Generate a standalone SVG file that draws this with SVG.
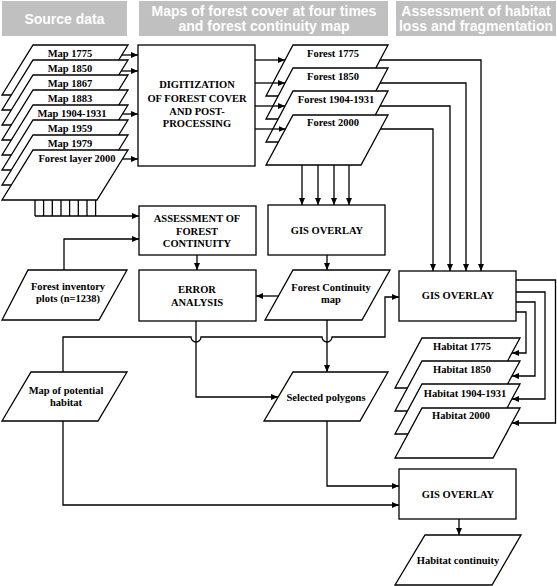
<svg xmlns="http://www.w3.org/2000/svg" width="557" height="586" viewBox="0 0 557 586">
<style>
.hdr{fill:#c0c0c0;stroke:none}
.ht{font-family:"Liberation Sans",Arial,sans-serif;font-weight:bold;font-size:14px;fill:#ffffff;text-anchor:middle}
.n{fill:#ffffff;stroke:#000;stroke-width:1.3}
.t{font-family:"Liberation Serif","Times New Roman",serif;font-weight:bold;font-size:10.5px;fill:#000;text-anchor:middle}
.c{fill:none;stroke:#000;stroke-width:1.3}
</style>
<defs>
<marker id="arr" markerUnits="userSpaceOnUse" viewBox="0 0 7 6" refX="7" refY="3" markerWidth="7" markerHeight="6" orient="auto">
<path d="M0,0 L7,3 L0,6 z" fill="#000"/>
</marker>
</defs>

<g id="header-source">
<rect class="hdr" x="2" y="1" width="125" height="35"/>
<text class="ht" x="64.5" y="24">Source data</text>
</g>
<g id="header-maps">
<rect class="hdr" x="139" y="1" width="249" height="35"/>
<text class="ht" x="264" y="15.5">Maps of forest cover at four times</text>
<text class="ht" x="264" y="31">and forest continuity map</text>
</g>
<g id="header-assessment">
<rect class="hdr" x="396" y="1" width="160" height="35"/>
<text class="ht" x="476" y="15.5">Assessment of habitat</text>
<text class="ht" x="476" y="31">loss and fragmentation</text>
</g>

<g id="map1775"><polygon class="n" points="33,45 128,45 97,95 2,95"/><text class="t" x="70" y="57">Map 1775</text></g>
<g id="map1850"><polygon class="n" points="33,60 128,60 97,110 2,110"/><text class="t" x="70" y="72">Map 1850</text></g>
<g id="map1867"><polygon class="n" points="33,75 128,75 97,125 2,125"/><text class="t" x="70" y="87">Map 1867</text></g>
<g id="map1883"><polygon class="n" points="33,90 128,90 97,140 2,140"/><text class="t" x="70" y="102">Map 1883</text></g>
<g id="map1904"><polygon class="n" points="33,105 128,105 97,155 2,155"/><text class="t" x="72" y="117">Map 1904-1931</text></g>
<g id="map1959"><polygon class="n" points="33,120 128,120 97,170 2,170"/><text class="t" x="70" y="132">Map 1959</text></g>
<g id="map1979"><polygon class="n" points="33,135 128,135 97,185 2,185"/><text class="t" x="70" y="147">Map 1979</text></g>
<g id="forestlayer2000"><polygon class="n" points="33,150 128,150 97,200 2,200"/><text class="t" x="77" y="162">Forest layer 2000</text></g>

<g id="digitization">
<rect class="n" x="138" y="45" width="117" height="121"/>
<text class="t" x="197" y="88">DIGITIZATION</text>
<text class="t" x="197" y="101.5">OF FOREST COVER</text>
<text class="t" x="197" y="114.5">AND POST-</text>
<text class="t" x="197" y="127">PROCESSING</text>
</g>

<g id="forest1775"><polygon class="n" points="293,45 388,45 361,96 266,96"/><text class="t" x="333" y="57">Forest 1775</text></g>
<g id="forest1850"><polygon class="n" points="293,68 388,68 361,119 266,119"/><text class="t" x="333" y="80">Forest 1850</text></g>
<g id="forest1904"><polygon class="n" points="293,91 388,91 361,142 266,142"/><text class="t" x="336" y="103">Forest 1904-1931</text></g>
<g id="forest2000"><polygon class="n" points="293,115 388,115 361,165 266,165"/><text class="t" x="333" y="126">Forest 2000</text></g>

<g id="assessment">
<rect class="n" x="139" y="206" width="117" height="49"/>
<text class="t" x="197" y="222">ASSESSMENT OF</text>
<text class="t" x="197" y="234.5">FOREST</text>
<text class="t" x="197" y="247">CONTINUITY</text>
</g>

<g id="gis-middle">
<rect class="n" x="268" y="205" width="117" height="50"/>
<text class="t" x="327" y="234">GIS OVERLAY</text>
</g>

<g id="inventory">
<polygon class="n" points="28,270 127,270 99,320 2,320"/>
<text class="t" x="68" y="290">Forest inventory</text>
<text class="t" x="68" y="302">plots (n=1238)</text>
</g>

<g id="error">
<rect class="n" x="139" y="270" width="117" height="51"/>
<text class="t" x="197" y="293">ERROR</text>
<text class="t" x="197" y="305.5">ANALYSIS</text>
</g>

<g id="continuity-map">
<polygon class="n" points="293,270 390,270 362,320 265,320"/>
<text class="t" x="331" y="291">Forest Continuity</text>
<text class="t" x="331" y="303">map</text>
</g>

<g id="gis-right">
<rect class="n" x="399" y="271" width="117" height="50"/>
<text class="t" x="458" y="299">GIS OVERLAY</text>
</g>

<g id="habitat1775"><polygon class="n" points="422,338 520,338 493,388 395,388"/><text class="t" x="462" y="350">Habitat 1775</text></g>
<g id="habitat1850"><polygon class="n" points="422,361 520,361 493,411 395,411"/><text class="t" x="462" y="373">Habitat 1850</text></g>
<g id="habitat1904"><polygon class="n" points="422,384 520,384 493,434 395,434"/><text class="t" x="465" y="396.5">Habitat 1904-1931</text></g>
<g id="habitat2000"><polygon class="n" points="422,408 520,408 493,458 395,458"/><text class="t" x="461" y="419">Habitat 2000</text></g>

<g id="potential-habitat">
<polygon class="n" points="31,372 127,372 98,421 2,421"/>
<text class="t" x="66" y="394">Map of potential</text>
<text class="t" x="66" y="406">habitat</text>
</g>

<g id="selected">
<polygon class="n" points="293,372 388,372 360,421 264,421"/>
<text class="t" x="326" y="401">Selected polygons</text>
</g>

<g id="gis-bottom">
<rect class="n" x="399" y="469" width="117" height="50"/>
<text class="t" x="458" y="498">GIS OVERLAY</text>
</g>

<g id="habitat-continuity">
<polygon class="n" points="425,535 521,535 492,585 395,585"/>
<text class="t" x="458" y="564">Habitat continuity</text>
</g>

<g id="connectors">
<path class="c" marker-end="url(#arr)" d="M121.8,55 H138"/>
<path class="c" marker-end="url(#arr)" d="M121.2,71 H138"/>
<path class="c" marker-end="url(#arr)" d="M122.4,114 H138"/>
<path class="c" marker-end="url(#arr)" d="M122.4,159 H138"/>

<path class="c" marker-end="url(#arr)" d="M255,60 H285"/>
<path class="c" marker-end="url(#arr)" d="M255,83 H285"/>
<path class="c" marker-end="url(#arr)" d="M255,106 H285"/>
<path class="c" marker-end="url(#arr)" d="M255,129 H285.5"/>

<path class="c" marker-end="url(#arr)" d="M380,60 H481 V271"/>
<path class="c" marker-end="url(#arr)" d="M380,83 H466 V271"/>
<path class="c" marker-end="url(#arr)" d="M380,106 H450 V271"/>
<path class="c" marker-end="url(#arr)" d="M380.5,129 H433 V271"/>

<path class="c" marker-end="url(#arr)" d="M302,165 V205"/>
<path class="c" marker-end="url(#arr)" d="M318,165 V205"/>
<path class="c" marker-end="url(#arr)" d="M334,165 V205"/>
<path class="c" marker-end="url(#arr)" d="M349,165 V205"/>

<path class="c" d="M35,200 V216 M43.6,200 V216 M52.3,200 V216 M61,200 V216 M69.6,200 V216 M78.3,200 V216 M87,200 V216 M95.6,200 V216"/>
<path class="c" marker-end="url(#arr)" d="M35,216 H139"/>

<path class="c" marker-end="url(#arr)" d="M64,270 V239 H139"/>
<path class="c" marker-end="url(#arr)" d="M197,255 V270"/>
<path class="c" marker-end="url(#arr)" d="M327,255 V270"/>
<path class="c" marker-end="url(#arr)" d="M278.4,296 H256"/>

<path class="c" marker-end="url(#arr)" d="M63,372 V337 H191 A5,5 0 0 0 201,337 H322 A5,5 0 0 0 332,337 H385 V297 H399"/>
<path class="c" marker-end="url(#arr)" d="M196,321 V397 H278"/>
<path class="c" marker-end="url(#arr)" d="M327,320 V372"/>
<path class="c" marker-end="url(#arr)" d="M327,421 V486 H399"/>
<path class="c" marker-end="url(#arr)" d="M63,421 V505 H399"/>

<path class="c" marker-end="url(#arr)" d="M516,312 H526 V353 H512"/>
<path class="c" marker-end="url(#arr)" d="M516,302 H535 V376 H512"/>
<path class="c" marker-end="url(#arr)" d="M516,292 H545 V399 H512"/>
<path class="c" marker-end="url(#arr)" d="M516,280 H555.5 V423 H512"/>

<path class="c" marker-end="url(#arr)" d="M459,519 V535"/>
</g>
</svg>
